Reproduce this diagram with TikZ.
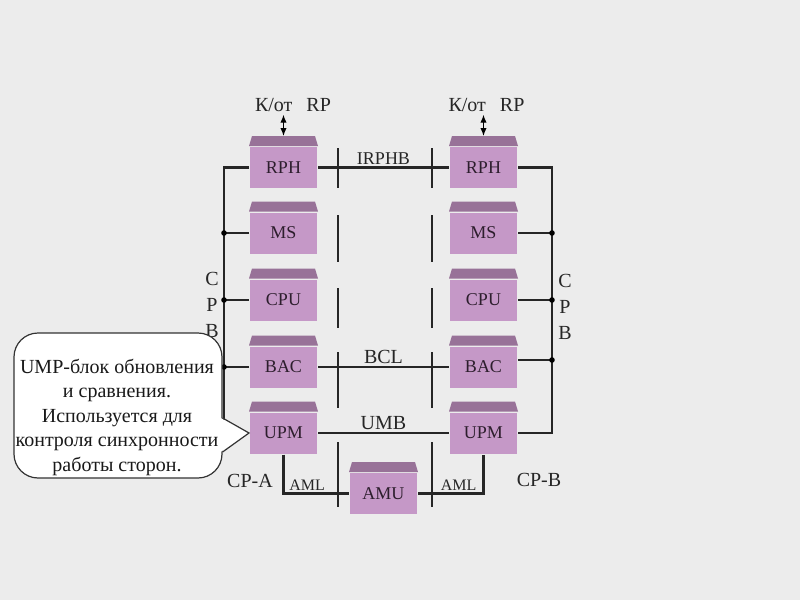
\documentclass[tikz,border=0pt]{standalone}
\usepackage{fontspec}
\setmainfont{Liberation Serif}
\usetikzlibrary{arrows.meta,calc}

\definecolor{paper}{RGB}{236,236,236}
\definecolor{unitbody}{RGB}{197,152,199}
\definecolor{unittop}{RGB}{152,114,152}
\definecolor{inktext}{RGB}{45,30,45}

\begin{document}
\begin{tikzpicture}[x=0.5pt, y=-0.5pt, font=\fontsize{10}{13}\selectfont,
  >={Latex[length=4pt,width=3.2pt]}, line width=1pt,
  unit/.style={fill=unitbody, text=inktext, minimum width=33.5pt,
               minimum height=20.5pt, inner sep=0pt, font=\fontsize{9}{10}\selectfont},
  roof/.style={fill=unittop},
  link/.style={draw=black!85, line width=1.1pt},
  divider/.style={draw=black!85, line width=0.6pt},
  tap/.style={circle, fill=black, inner sep=0pt, minimum size=2.8pt},
  lbl/.style={inner sep=1pt, text=black!85},
  small/.style={lbl, font=\fontsize{8}{9}\selectfont},
  callout/.style={draw=black!80, fill=white, line width=0.6pt}]

\fill[paper] (0,0) rectangle (800,600);

% side A
\node[unit] (rphA) at (283.5,167.5) {RPH};
\node[unit] (msA)  at (283.5,233)   {MS};
\node[unit] (cpuA) at (283.5,300)   {CPU};
\node[unit] (bacA) at (283.5,367)   {BAC};
\node[unit] (upmA) at (283.5,433)   {UPM};
% side B
\node[unit] (rphB) at (483.5,167.5) {RPH};
\node[unit] (msB)  at (483.5,233)   {MS};
\node[unit] (cpuB) at (483.5,300)   {CPU};
\node[unit] (bacB) at (483.5,367)   {BAC};
\node[unit] (upmB) at (483.5,433)   {UPM};
\node[unit] (amu)  at (383.5,493.5) {AMU};

\foreach \u in {rphA,msA,cpuA,bacA,upmA,rphB,msB,cpuB,bacB,upmB,amu}
  \fill[roof] (\u.north west) -- ([shift={(1.5pt,5pt)}]\u.north west)
    -- ([shift={(-1.5pt,5pt)}]\u.north east) -- (\u.north east) -- cycle;

% CP buses
\coordinate (busLtop) at (224,167.5);
\coordinate (busLbot) at (224,433);
\coordinate (busRtop) at (552,167.5);
\coordinate (busRbot) at (552,433);
\coordinate (bacBtap) at ([yshift=3.5pt]bacB.east);

\draw[link] (rphA.west) -- (busLtop) -- (busLbot) -- (upmA.west);
\draw[link] (msA.west)  -- (msA.west -| busLtop)  node[tap] {};
\draw[link] (cpuA.west) -- (cpuA.west -| busLtop) node[tap] {};
\draw[link] (bacA.west) -- (bacA.west -| busLtop) node[tap] {};

\draw[link] (rphB.east) -- (busRtop) -- (busRbot) -- (upmB.east);
\draw[link] (msB.east)  -- (msB.east -| busRtop)  node[tap] {};
\draw[link] (cpuB.east) -- (cpuB.east -| busRtop) node[tap] {};
\draw[link] (bacBtap)   -- (bacBtap -| busRtop)   node[tap] {};

% links between the sides
\draw[link] (rphA.east) -- node[lbl, above, font=\fontsize{9}{10}\selectfont] {IRPHB} (rphB.west);
\draw[link] (bacA.east) -- node[lbl, above] {BCL} (bacB.west);
\draw[link] (upmA.east) -- node[lbl, above] {UMB} (upmB.west);
\draw[link] (upmA.south) |- node[small, above, pos=0.68] {AML} (amu.west);
\draw[link] (amu.east) -| node[small, above, pos=0.31] {AML} (upmB.south);

\foreach \x in {338,432}
  \draw[divider] (\x,148) -- (\x,188) (\x,215) -- (\x,262) (\x,288) -- (\x,328)
                 (\x,352) -- (\x,408) (\x,442) -- (\x,507);

% to / from RP
\node[lbl] (portA) at (293,105)   {К/от\hspace{7pt}RP};
\node[lbl] (portB) at (486.5,105) {К/от\hspace{7pt}RP};
\draw[<->, line width=0.6pt] (portA.south -| rphA.north) -- ([yshift=5pt]rphA.north);
\draw[<->, line width=0.6pt] (portB.south -| rphB.north) -- ([yshift=5pt]rphB.north);

\node[lbl, align=center] (cpbA) at (212,305) {C\\P\\B};
\node[lbl, align=center] (cpbB) at (565,307) {C\\P\\B};
\node[lbl] (sideA) at (250,481) {CP-A};
\node[lbl] (sideB) at (539,480) {CP-B};

% note on UPM
\node[callout, rounded corners=12pt, minimum width=104pt, minimum height=72.5pt,
      inner sep=0pt] (noteBox) at (118,405.5) {};
\coordinate (tipTop) at (noteBox.east |- 0,418);
\coordinate (tipBot) at (noteBox.east |- 0,452);
\fill[white] ([xshift=-1pt]tipTop) -- (upmA.west) -- ([xshift=-1pt]tipBot) -- cycle;
\draw[draw=black!80, line width=0.6pt] (tipTop) -- (upmA.west) -- (tipBot);
\node[align=center, text=black!90, font=\fontsize{10}{12.25}\selectfont] (note) at (117,417)
  {UMP-блок обновления\\и сравнения.\\Используется для\\контроля синхронности\\работы сторон.};

\end{tikzpicture}
\end{document}
